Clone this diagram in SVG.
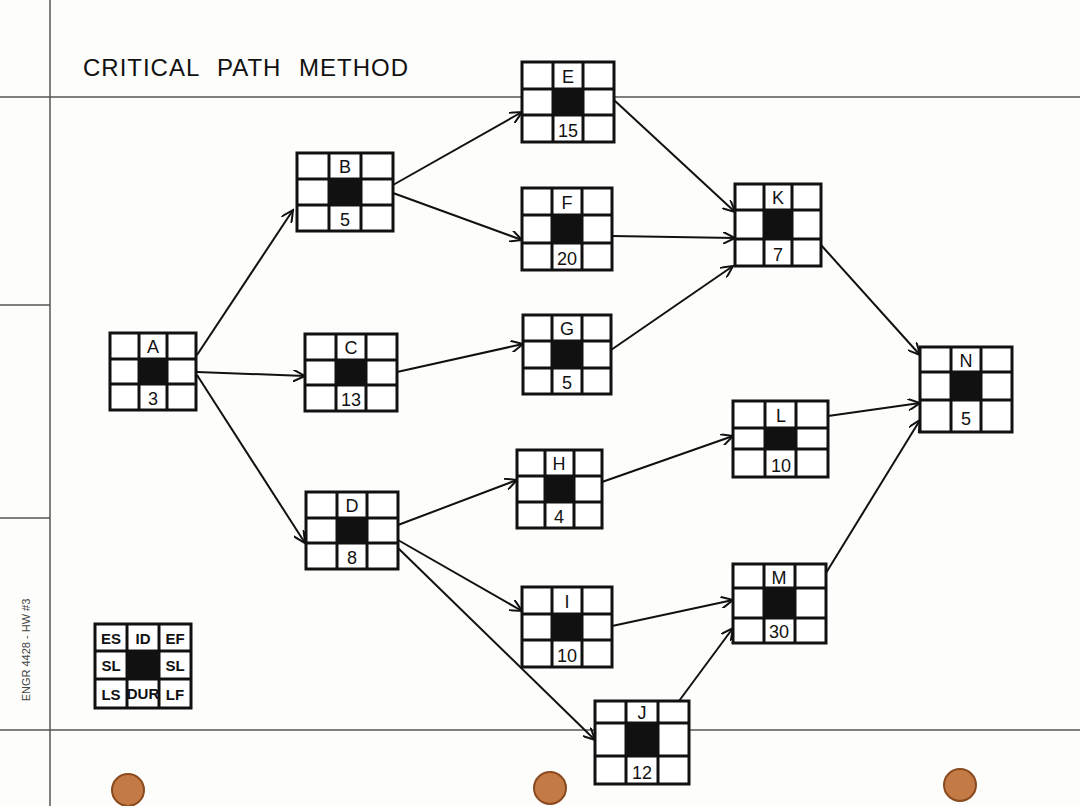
<svg xmlns="http://www.w3.org/2000/svg" width="1080" height="806" viewBox="0 0 1080 806">
<style>
.g{fill:#fff;stroke:#111;stroke-width:3}
.l{stroke:#111;stroke-width:3}
.t{font-family:"Liberation Sans",sans-serif;font-size:18px;fill:#111;text-anchor:middle}
.lt{font-family:"Liberation Sans Narrow","Liberation Sans",sans-serif;font-size:15px;font-weight:bold;fill:#111;text-anchor:middle}
.c{stroke:#111;stroke-width:2;fill:none;marker-end:url(#ah)}
.pl{stroke:#555;stroke-width:1.5}
.hole{fill:#c47a45;stroke:#8a4a20;stroke-width:2}
</style>
<defs>
<marker id="ah" markerWidth="14" markerHeight="12" refX="12" refY="6" orient="auto" markerUnits="userSpaceOnUse"><path d="M0,0 L12,6 L0,12" fill="none" stroke="#111" stroke-width="2"/></marker>
</defs>
<rect width="1080" height="806" fill="#fdfdfb"/>
<g id="paper">
<line class="pl" x1="0" y1="97" x2="1080" y2="97"/>
<line class="pl" x1="0" y1="730" x2="1080" y2="730"/>
<line class="pl" x1="50" y1="0" x2="50" y2="806"/>
<line class="pl" x1="0" y1="305" x2="50" y2="305"/>
<line class="pl" x1="0" y1="518" x2="50" y2="518"/>
<circle class="hole" cx="128" cy="790" r="16"/>
<circle class="hole" cx="550" cy="788" r="16"/>
<circle class="hole" cx="960" cy="785" r="16"/>
<text x="30" y="650" transform="rotate(-90 30 650)" font-family="Liberation Sans,sans-serif" font-size="11" fill="#444" text-anchor="middle">ENGR 4428 - HW #3</text>
<text x="83" y="76" font-family="Liberation Sans,sans-serif" font-size="24" fill="#111" letter-spacing="2" textLength="327" word-spacing="10">CRITICAL PATH METHOD</text>
</g>
<g id="connectors">
<line class="c" x1="197" y1="355" x2="293" y2="210"/>
<line class="c" x1="197" y1="372" x2="305" y2="376"/>
<line class="c" x1="197" y1="375" x2="305" y2="543"/>
<line class="c" x1="393" y1="185" x2="522" y2="112"/>
<line class="c" x1="393" y1="193" x2="522" y2="240"/>
<line class="c" x1="397" y1="372" x2="523" y2="344"/>
<line class="c" x1="398" y1="525" x2="517" y2="480"/>
<line class="c" x1="398" y1="540" x2="522" y2="611"/>
<line class="c" x1="398" y1="548" x2="595" y2="740"/>
<line class="c" x1="614" y1="100" x2="735" y2="212"/>
<line class="c" x1="612" y1="236" x2="735" y2="238"/>
<line class="c" x1="611" y1="350" x2="733" y2="266"/>
<line class="c" x1="602" y1="482" x2="733" y2="436"/>
<line class="c" x1="612" y1="626" x2="733" y2="600"/>
<line class="c" x1="679" y1="701" x2="733" y2="628"/>
<line class="c" x1="821" y1="245" x2="920" y2="355"/>
<line class="c" x1="828" y1="416" x2="920" y2="403"/>
<line class="c" x1="826" y1="573" x2="920" y2="420"/>
</g>
<g id="A" transform="translate(110,333)"><rect class="g" width="86" height="77"/><line class="l" x1="29" y1="0" x2="29" y2="77"/><line class="l" x1="57" y1="0" x2="57" y2="77"/><line class="l" x1="0" y1="26" x2="86" y2="26"/><line class="l" x1="0" y1="51" x2="86" y2="51"/><rect x="29" y="26" width="28" height="25" fill="#111"/><text class="t" x="43" y="20">A</text><text class="t" x="43" y="72">3</text></g>
<g id="B" transform="translate(297,153)"><rect class="g" width="96" height="78"/><line class="l" x1="32" y1="0" x2="32" y2="78"/><line class="l" x1="64" y1="0" x2="64" y2="78"/><line class="l" x1="0" y1="26" x2="96" y2="26"/><line class="l" x1="0" y1="52" x2="96" y2="52"/><rect x="32" y="26" width="32" height="26" fill="#111"/><text class="t" x="48" y="20">B</text><text class="t" x="48" y="73">5</text></g>
<g id="C" transform="translate(305,334)"><rect class="g" width="92" height="77"/><line class="l" x1="31" y1="0" x2="31" y2="77"/><line class="l" x1="61" y1="0" x2="61" y2="77"/><line class="l" x1="0" y1="26" x2="92" y2="26"/><line class="l" x1="0" y1="51" x2="92" y2="51"/><rect x="31" y="26" width="30" height="25" fill="#111"/><text class="t" x="46" y="20">C</text><text class="t" x="46" y="72" font-size="16">13</text></g>
<g id="D" transform="translate(306,492)"><rect class="g" width="92" height="77"/><line class="l" x1="31" y1="0" x2="31" y2="77"/><line class="l" x1="61" y1="0" x2="61" y2="77"/><line class="l" x1="0" y1="26" x2="92" y2="26"/><line class="l" x1="0" y1="51" x2="92" y2="51"/><rect x="31" y="26" width="30" height="25" fill="#111"/><text class="t" x="46" y="20">D</text><text class="t" x="46" y="72">8</text></g>
<g id="E" transform="translate(522,62)"><rect class="g" width="92" height="80"/><line class="l" x1="31" y1="0" x2="31" y2="80"/><line class="l" x1="61" y1="0" x2="61" y2="80"/><line class="l" x1="0" y1="27" x2="92" y2="27"/><line class="l" x1="0" y1="53" x2="92" y2="53"/><rect x="31" y="27" width="30" height="26" fill="#111"/><text class="t" x="46" y="21">E</text><text class="t" x="46" y="75">15</text></g>
<g id="F" transform="translate(522,188)"><rect class="g" width="90" height="82"/><line class="l" x1="30" y1="0" x2="30" y2="82"/><line class="l" x1="60" y1="0" x2="60" y2="82"/><line class="l" x1="0" y1="27" x2="90" y2="27"/><line class="l" x1="0" y1="55" x2="90" y2="55"/><rect x="30" y="27" width="30" height="28" fill="#111"/><text class="t" x="45" y="21">F</text><text class="t" x="45" y="77">20</text></g>
<g id="G" transform="translate(523,315)"><rect class="g" width="88" height="79"/><line class="l" x1="29" y1="0" x2="29" y2="79"/><line class="l" x1="59" y1="0" x2="59" y2="79"/><line class="l" x1="0" y1="26" x2="88" y2="26"/><line class="l" x1="0" y1="53" x2="88" y2="53"/><rect x="29" y="26" width="30" height="27" fill="#111"/><text class="t" x="44" y="20">G</text><text class="t" x="44" y="74">5</text></g>
<g id="H" transform="translate(517,450)"><rect class="g" width="85" height="78"/><line class="l" x1="28" y1="0" x2="28" y2="78"/><line class="l" x1="57" y1="0" x2="57" y2="78"/><line class="l" x1="0" y1="26" x2="85" y2="26"/><line class="l" x1="0" y1="52" x2="85" y2="52"/><rect x="28" y="26" width="29" height="26" fill="#111"/><text class="t" x="42" y="20">H</text><text class="t" x="42" y="73">4</text></g>
<g id="I" transform="translate(522,587)"><rect class="g" width="90" height="80"/><line class="l" x1="30" y1="0" x2="30" y2="80"/><line class="l" x1="60" y1="0" x2="60" y2="80"/><line class="l" x1="0" y1="27" x2="90" y2="27"/><line class="l" x1="0" y1="53" x2="90" y2="53"/><rect x="30" y="27" width="30" height="26" fill="#111"/><text class="t" x="45" y="21">I</text><text class="t" x="45" y="75">10</text></g>
<g id="J" transform="translate(595,701)"><rect class="g" width="94" height="83"/><line class="l" x1="31" y1="0" x2="31" y2="83"/><line class="l" x1="63" y1="0" x2="63" y2="83"/><line class="l" x1="0" y1="22" x2="94" y2="22"/><line class="l" x1="0" y1="55" x2="94" y2="55"/><rect x="31" y="22" width="32" height="33" fill="#111"/><text class="t" x="47" y="18">J</text><text class="t" x="47" y="78">12</text></g>
<g id="K" transform="translate(735,184)"><rect class="g" width="86" height="82"/><line class="l" x1="29" y1="0" x2="29" y2="82"/><line class="l" x1="57" y1="0" x2="57" y2="82"/><line class="l" x1="0" y1="26" x2="86" y2="26"/><line class="l" x1="0" y1="55" x2="86" y2="55"/><rect x="29" y="26" width="28" height="29" fill="#111"/><text class="t" x="43" y="20">K</text><text class="t" x="43" y="77">7</text></g>
<g id="L" transform="translate(733,401)"><rect class="g" width="95" height="76"/><line class="l" x1="32" y1="0" x2="32" y2="76"/><line class="l" x1="63" y1="0" x2="63" y2="76"/><line class="l" x1="0" y1="27" x2="95" y2="27"/><line class="l" x1="0" y1="48" x2="95" y2="48"/><rect x="32" y="27" width="31" height="21" fill="#111"/><text class="t" x="48" y="21">L</text><text class="t" x="48" y="71">10</text></g>
<g id="M" transform="translate(733,564)"><rect class="g" width="93" height="79"/><line class="l" x1="31" y1="0" x2="31" y2="79"/><line class="l" x1="62" y1="0" x2="62" y2="79"/><line class="l" x1="0" y1="24" x2="93" y2="24"/><line class="l" x1="0" y1="54" x2="93" y2="54"/><rect x="31" y="24" width="31" height="30" fill="#111"/><text class="t" x="46" y="20">M</text><text class="t" x="46" y="74">30</text></g>
<g id="N" transform="translate(920,347)"><rect class="g" width="92" height="85"/><line class="l" x1="31" y1="0" x2="31" y2="85"/><line class="l" x1="61" y1="0" x2="61" y2="85"/><line class="l" x1="0" y1="25" x2="92" y2="25"/><line class="l" x1="0" y1="53" x2="92" y2="53"/><rect x="31" y="25" width="30" height="28" fill="#111"/><text class="t" x="46" y="20">N</text><text class="t" x="46" y="78">5</text></g>
<g id="legend" transform="translate(95,624)"><rect class="g" width="96" height="84"/><line class="l" x1="32" y1="0" x2="32" y2="84"/><line class="l" x1="64" y1="0" x2="64" y2="84"/><line class="l" x1="0" y1="27" x2="96" y2="27"/><line class="l" x1="0" y1="55" x2="96" y2="55"/><rect x="32" y="27" width="32" height="28" fill="#111"/>
<text class="lt" x="16" y="20">ES</text><text class="lt" x="48" y="20">ID</text><text class="lt" x="80" y="20">EF</text>
<text class="lt" x="16" y="47">SL</text><text class="lt" x="80" y="47">SL</text>
<text class="lt" x="16" y="76">LS</text><text class="lt" x="48" y="75" font-size="9">DUR</text><text class="lt" x="80" y="76">LF</text></g>
</svg>
